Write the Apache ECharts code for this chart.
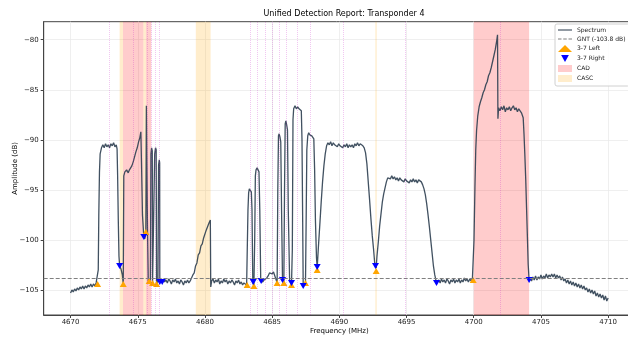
<!DOCTYPE html>
<html style="height: 100%">
<head>
  <meta charset="utf-8">
  <title>Unified Detection Report</title>
</head>
<body style="height: 100%; margin: 0; background: #fff">
<div id="container" style="width: 628px; height: 337px"></div>
<script src="https://cdn.jsdelivr.net/npm/echarts@6/dist/echarts.min.js"></script>
<script>
// spectrum trace, [MHz, dB]
var spectrum = [
  [4670.0,-105.3],[4670.1,-105.0],[4670.2,-105.2],[4670.3,-104.9],[4670.4,-105.1],[4670.5,-104.8],[4670.6,-105.0],[4670.7,-104.7],
  [4670.8,-104.9],[4670.9,-104.6],[4671.0,-104.9],[4671.1,-104.6],[4671.2,-104.8],[4671.3,-104.5],[4671.4,-104.7],[4671.5,-104.4],
  [4671.6,-104.7],[4671.7,-104.4],[4671.8,-104.6],[4671.9,-104.3],[4672.0,-104.4],
  [4672.06,-103.0],[4672.1,-97.5],[4672.15,-93.2],[4672.2,-91.4],[4672.3,-90.8],[4672.4,-90.5],[4672.5,-90.8],[4672.6,-90.4],
  [4672.7,-90.7],[4672.8,-90.5],[4672.9,-90.8],[4673.0,-90.4],[4673.1,-90.6],[4673.2,-90.3],[4673.3,-90.7],[4673.4,-90.5],
  [4673.46,-90.9],[4673.5,-93.5],[4673.55,-98.0],[4673.6,-101.6],[4673.65,-102.6],[4673.75,-102.9],[4673.85,-103.5],[4673.92,-104.4],
  [4673.96,-93.6],[4674.04,-93.2],[4674.17,-93.0],[4674.29,-93.3],[4674.38,-93.0],[4674.46,-92.9],[4674.56,-92.6],[4674.66,-92.2],
  [4674.76,-91.7],[4674.86,-91.2],[4674.96,-90.8],[4675.06,-90.2],[4675.15,-89.8],[4675.23,-89.2],[4675.28,-92.5],[4675.35,-97.5],
  [4675.45,-99.7],[4675.52,-99.9],[4675.6,-99.2],[4675.64,-86.6],[4675.68,-92.8],[4675.72,-98.5],[4675.78,-104.1],[4675.85,-104.1],
  [4675.94,-104.0],[4675.98,-91.4],[4676.03,-90.8],[4676.08,-91.1],[4676.1,-104.3],[4676.2,-104.2],[4676.26,-91.4],[4676.32,-90.8],
  [4676.37,-91.0],[4676.4,-104.4],[4676.5,-104.1],[4676.55,-92.5],[4676.6,-92.0],[4676.63,-92.3],[4676.64,-104.2],[4676.72,-104.0],
  [4676.82,-104.2],
  [4676.9,-103.9],[4677.0,-104.2],[4677.1,-104.0],[4677.2,-104.3],[4677.3,-103.9],[4677.4,-104.1],[4677.5,-104.4],[4677.6,-104.0],
  [4677.7,-104.2],[4677.8,-103.9],[4677.9,-104.3],[4678.0,-104.1],[4678.1,-104.4],[4678.2,-104.0],[4678.3,-104.2],[4678.4,-104.5],
  [4678.5,-104.1],[4678.6,-104.3],[4678.7,-104.0],[4678.8,-104.3],[4678.9,-104.1],
  [4679.0,-104.2],[4679.1,-103.5],[4679.2,-103.3],[4679.3,-102.6],[4679.4,-102.3],[4679.5,-101.5],[4679.6,-101.3],[4679.7,-100.6],
  [4679.8,-100.4],[4679.9,-99.8],[4680.0,-99.7],[4680.1,-99.0],[4680.2,-98.9],[4680.3,-98.3],[4680.4,-98.0],[4680.43,-104.7],
  [4680.5,-104.1],[4680.6,-103.9],[4680.7,-104.3],[4680.8,-104.0],[4680.9,-104.2],[4681.0,-103.9],[4681.1,-104.4],[4681.2,-104.1],
  [4681.3,-104.3],[4681.4,-103.9],[4681.5,-104.2],[4681.6,-104.0],[4681.7,-104.4],[4681.8,-104.1],[4681.9,-104.3],[4682.0,-104.0],
  [4682.1,-104.2],[4682.2,-104.5],[4682.3,-104.1],[4682.4,-104.3],[4682.5,-104.0],[4682.6,-104.4],[4682.7,-104.2],[4682.8,-104.5],
  [4682.9,-104.3],[4683.0,-104.4],[4683.1,-104.5],[4683.14,-104.5],
  [4683.2,-97.0],[4683.25,-95.3],[4683.3,-94.9],[4683.38,-95.0],[4683.45,-95.2],[4683.5,-97.0],[4683.56,-104.2],[4683.64,-104.6],
  [4683.7,-100.0],[4683.75,-93.6],[4683.8,-93.0],[4683.88,-92.8],[4683.95,-92.9],[4684.02,-93.2],[4684.08,-97.0],[4684.15,-104.1],
  [4684.3,-104.2],[4684.4,-104.0],[4684.5,-104.1],[4684.6,-103.8],[4684.7,-103.6],[4684.8,-103.3],[4684.9,-103.2],[4685.0,-103.4],
  [4685.1,-103.2],[4685.2,-103.6],[4685.3,-104.0],[4685.37,-104.3],
  [4685.42,-95.0],[4685.47,-89.6],[4685.52,-89.4],[4685.58,-89.7],[4685.64,-90.2],[4685.7,-97.0],[4685.77,-104.0],[4685.87,-104.3],
  [4685.92,-95.0],[4685.97,-88.4],[4686.02,-88.1],[4686.08,-88.5],[4686.14,-89.0],[4686.2,-97.0],[4686.3,-104.1],[4686.44,-104.4],
  [4686.5,-101.0],[4686.55,-88.0],[4686.6,-86.9],[4686.7,-86.6],[4686.8,-86.9],[4686.9,-86.7],[4687.0,-86.9],[4687.1,-86.8],
  [4687.17,-87.1],[4687.22,-90.0],[4687.27,-98.0],[4687.31,-104.6],[4687.4,-104.5],[4687.48,-104.3],
  [4687.53,-98.0],[4687.58,-91.0],[4687.65,-89.6],[4687.72,-89.3],[4687.8,-89.5],[4687.88,-89.4],[4687.95,-89.6],[4688.02,-89.5],
  [4688.1,-89.9],[4688.16,-93.0],[4688.22,-98.0],[4688.3,-101.8],[4688.35,-102.8],
  [4688.45,-100.5],[4688.55,-98.4],[4688.65,-96.2],[4688.75,-94.2],[4688.85,-92.6],[4688.95,-91.4],
  [4689.05,-90.6],[4689.15,-90.3],[4689.25,-90.5],[4689.35,-90.2],[4689.45,-90.6],[4689.55,-90.3],[4689.65,-90.5],[4689.75,-90.4],
  [4689.85,-90.7],[4689.95,-90.4],[4690.05,-90.6],[4690.15,-90.5],[4690.25,-90.8],[4690.35,-90.5],[4690.45,-90.7],[4690.55,-90.4],
  [4690.65,-90.8],[4690.75,-90.5],[4690.85,-90.7],[4690.95,-90.5],[4691.05,-90.8],[4691.15,-90.4],[4691.25,-90.6],[4691.35,-90.3],
  [4691.45,-90.6],[4691.55,-90.4],[4691.65,-90.5],[4691.75,-90.6],
  [4691.85,-90.8],[4691.95,-91.3],[4692.05,-92.4],[4692.15,-94.2],[4692.25,-96.0],[4692.35,-97.9],[4692.45,-99.6],[4692.55,-101.0],
  [4692.63,-102.3],[4692.69,-102.6],[4692.74,-102.8],[4692.8,-101.6],[4692.9,-100.2],[4693.0,-98.6],[4693.1,-97.4],[4693.2,-96.2],
  [4693.3,-95.4],[4693.4,-94.8],[4693.5,-94.2],[4693.6,-93.8],
  [4693.7,-93.7],[4693.8,-93.9],[4693.9,-93.6],[4694.0,-93.9],[4694.1,-93.7],[4694.2,-94.0],[4694.3,-93.8],[4694.4,-94.1],
  [4694.5,-93.8],[4694.6,-94.0],[4694.7,-93.9],[4694.8,-94.2],[4694.9,-93.9],[4695.0,-94.1],[4695.1,-94.0],[4695.2,-94.3],
  [4695.3,-94.0],[4695.4,-94.2],[4695.5,-93.9],[4695.6,-94.2],[4695.7,-94.0],[4695.8,-94.3],[4695.9,-94.0],[4696.0,-94.1],
  [4696.1,-94.2],[4696.2,-94.5],[4696.3,-94.9],[4696.4,-95.5],[4696.5,-96.4],[4696.6,-97.5],[4696.7,-98.7],[4696.8,-100.0],
  [4696.9,-101.3],[4697.0,-102.6],[4697.1,-103.5],[4697.23,-104.3],
  [4697.3,-104.2],[4697.4,-104.0],[4697.5,-104.3],[4697.6,-103.9],[4697.7,-104.2],[4697.8,-104.0],[4697.9,-104.3],[4698.0,-103.9],
  [4698.1,-104.1],[4698.2,-104.4],[4698.3,-104.0],[4698.4,-104.2],[4698.5,-103.9],[4698.6,-104.3],[4698.7,-104.0],[4698.8,-104.2],
  [4698.9,-103.9],[4699.0,-104.3],[4699.1,-104.0],[4699.2,-104.2],[4699.3,-103.8],[4699.4,-104.1],[4699.5,-103.9],[4699.6,-104.2],
  [4699.7,-103.9],[4699.8,-104.1],[4699.9,-103.9],[4699.96,-104.0],
  [4700.02,-100.0],[4700.09,-94.7],[4700.15,-91.0],[4700.21,-89.1],[4700.3,-87.6],[4700.4,-86.7],[4700.5,-86.2],[4700.6,-85.8],
  [4700.7,-85.3],[4700.8,-85.0],[4700.9,-84.5],[4701.0,-84.2],[4701.1,-83.6],[4701.2,-83.3],[4701.3,-82.8],[4701.4,-82.2],
  [4701.5,-81.6],[4701.6,-81.0],[4701.7,-80.2],[4701.77,-79.5],[4701.8,-87.9],[4701.85,-86.8],
  [4701.95,-87.1],[4702.05,-86.7],[4702.15,-87.0],[4702.25,-86.6],[4702.35,-87.2],[4702.45,-86.8],[4702.55,-87.0],[4702.65,-86.7],
  [4702.75,-87.1],[4702.85,-86.8],[4702.95,-86.6],[4703.05,-87.0],[4703.15,-86.8],[4703.25,-87.2],[4703.35,-86.9],[4703.45,-87.1],
  [4703.55,-87.3],[4703.62,-87.4],[4703.68,-87.8],[4703.74,-89.4],[4703.8,-91.4],[4703.87,-94.0],[4703.93,-96.8],[4704.0,-100.0],
  [4704.05,-102.4],[4704.12,-104.0],
  [4704.2,-103.8],[4704.3,-104.1],[4704.4,-103.7],[4704.5,-104.0],[4704.6,-103.6],[4704.7,-104.0],[4704.8,-103.7],[4704.9,-103.9],
  [4705.0,-103.5],[4705.1,-103.9],[4705.2,-103.6],[4705.3,-103.8],[4705.4,-103.4],[4705.5,-103.8],[4705.6,-103.5],[4705.7,-103.7],
  [4705.8,-103.4],[4705.9,-103.7],[4706.0,-103.4],[4706.1,-103.8],[4706.2,-103.5],[4706.3,-103.8],[4706.4,-103.6],[4706.5,-104.0],
  [4706.6,-103.7],[4706.7,-104.1],[4706.8,-103.9],[4706.9,-104.3],[4707.0,-104.0],[4707.1,-104.4],[4707.2,-104.1],[4707.3,-104.5],
  [4707.4,-104.2],[4707.5,-104.6],[4707.6,-104.3],[4707.7,-104.7],[4707.8,-104.4],[4707.9,-104.8],[4708.0,-104.5],[4708.1,-104.9],
  [4708.2,-104.6],[4708.3,-105.0],[4708.4,-104.8],[4708.5,-105.2],[4708.6,-104.9],[4708.7,-105.3],[4708.8,-105.0],[4708.9,-105.4],
  [4709.0,-105.1],[4709.1,-105.6],[4709.2,-105.3],[4709.3,-105.7],[4709.4,-105.4],[4709.5,-105.8],[4709.6,-105.5],[4709.7,-106.0],
  [4709.8,-105.6],[4709.9,-106.1],[4710.0,-105.8]
];

var gntLevel = -103.8;

// 3-7 edge detections
var leftMarks = [
  [4672.01,-104.4],[4673.92,-104.4],[4675.6,-99.2],[4675.85,-104.1],[4676.1,-104.3],[4676.4,-104.4],
  [4683.14,-104.5],[4683.64,-104.6],[4685.37,-104.3],[4685.87,-104.3],[4686.44,-104.5],[4687.48,-104.3],
  [4688.35,-103.0],[4692.74,-103.1],[4699.96,-104.0]
];
var rightMarks = [
  [4673.65,-102.6],[4675.45,-99.7],[4676.64,-104.2],[4676.82,-104.2],[4683.59,-104.2],[4684.18,-104.1],
  [4685.77,-104.0],[4686.44,-104.3],[4687.31,-104.6],[4688.35,-102.7],[4692.69,-102.6],[4697.23,-104.3],
  [4704.12,-104.0]
];

// detected carrier centres (dotted)
var centres = [4672.87, 4674.66, 4675.7, 4676.03, 4676.32, 4676.59, 4683.37, 4683.92, 4684.46,
  4685.03, 4685.52, 4686.04, 4686.9, 4687.87, 4690.3, 4694.9, 4701.97];

// shaded regions [start, end] MHz
var cadBands = [[4673.9, 4675.42], [4675.6, 4676.0], [4700.0, 4704.12]];
var cascBands = [[4673.65, 4673.9], [4675.42, 4675.6], [4679.32, 4680.42], [4692.68, 4692.78]];

var xTicks = [4670, 4675, 4680, 4685, 4690, 4695, 4700, 4705, 4710];
var yTicks = [-105, -100, -95, -90, -85, -80];

var font = 'DejaVu Sans';
var chart = echarts.init(document.getElementById('container'));

function bands(list) {
  return list.map(function (b) { return [{ xAxis: b[0] }, { xAxis: b[1] }]; });
}
function plain(v) { return String(v).replace('-', '\u2212'); }

var option = {
  animation: false,
  title: {
    text: 'Unified Detection Report: Transponder 4',
    left: 339, top: 5, textAlign: 'center',
    textStyle: { fontFamily: font, fontSize: 8, fontWeight: 'normal', color: '#000' }
  },
  grid: {
    left: 43.7, top: 21.7, bottom: 22, width: 591.3,
    outerBoundsMode: 'none', containLabel: false,
    show: true, borderColor: '#444', borderWidth: 1, backgroundColor: 'transparent'
  },
  legend: {
    orient: 'vertical', left: 555, top: 24,
    itemWidth: 14, itemHeight: 7, itemGap: 3, padding: [3, 4, 4, 3],
    backgroundColor: 'rgba(255,255,255,0.9)', borderColor: '#d0d0d0', borderWidth: 1, borderRadius: 2,
    textStyle: { fontFamily: font, fontSize: 6, color: '#222' },
    data: [
      { name: 'Spectrum', icon: 'path://M0,0h20v1.6h-20z' },
      { name: 'GNT (-103.8 dB)', icon: 'path://M0,0h5v1.4h-5zM7.5,0h5v1.4h-5zM15,0h5v1.4h-5z' },
      { name: '3-7 Left', icon: 'triangle' },
      { name: '3-7 Right', icon: 'path://M0,0L10,0L5,9Z' },
      { name: 'CAD', icon: 'rect' },
      { name: 'CASC', icon: 'rect' }
    ]
  },
  xAxis: {
    type: 'value', min: 4668, max: 4712,
    name: 'Frequency (MHz)', nameLocation: 'middle', nameGap: 13, nameMoveOverlap: false,
    nameTextStyle: { fontFamily: font, fontSize: 7, color: '#000' },
    axisLine: { lineStyle: { color: '#444', width: 1 } },
    axisTick: { show: true, length: 3, customValues: xTicks, lineStyle: { color: '#444' } },
    axisLabel: { customValues: xTicks, formatter: plain, margin: 4, fontFamily: font, fontSize: 7, color: '#222' },
    splitLine: { show: true, lineStyle: { color: '#ebebeb', width: 0.8 } }
  },
  yAxis: {
    type: 'value', min: -107.5, max: -78.2,
    name: 'Amplitude (dB)', nameLocation: 'middle', nameGap: 25, nameRotate: 90, nameMoveOverlap: false,
    nameTextStyle: { fontFamily: font, fontSize: 7, color: '#000' },
    axisLine: { show: true, lineStyle: { color: '#444', width: 1 } },
    axisTick: { show: true, length: 3, customValues: yTicks, lineStyle: { color: '#444' } },
    axisLabel: { customValues: yTicks, formatter: plain, margin: 5, fontFamily: font, fontSize: 7, color: '#222' },
    splitLine: { show: true, lineStyle: { color: '#ebebeb', width: 0.8 } }
  },
  series: [
    {
      name: 'CAD', type: 'line', data: [], z: 1,
      itemStyle: { color: 'rgba(255,0,0,0.2)' }, lineStyle: { color: 'rgba(255,0,0,0.2)' },
      markArea: { silent: true, itemStyle: { color: 'rgba(255,0,0,0.2)' }, data: bands(cadBands) }
    },
    {
      name: 'CASC', type: 'line', data: [], z: 1,
      itemStyle: { color: 'rgba(255,165,0,0.2)' }, lineStyle: { color: 'rgba(255,165,0,0.2)' },
      markArea: { silent: true, itemStyle: { color: 'rgba(255,165,0,0.2)' }, data: bands(cascBands) }
    },
    {
      name: 'GNT (-103.8 dB)', type: 'line', data: [], z: 2,
      itemStyle: { color: '#808080' }, lineStyle: { color: '#808080' },
      markLine: {
        silent: true, symbol: ['none', 'none'], label: { show: false },
        lineStyle: { color: '#808080', type: [4, 2], width: 1 },
        data: [{ yAxis: gntLevel }]
      }
    },
    {
      name: 'Spectrum', type: 'line', data: spectrum, z: 3,
      showSymbol: false, symbol: 'none', sampling: false,
      itemStyle: { color: '#3b4a5b' },
      lineStyle: { color: 'rgba(44,62,80,0.9)', width: 1.3 },
      markLine: {
        silent: true, symbol: ['none', 'none'], label: { show: false },
        lineStyle: { color: 'rgba(191,0,191,0.22)', type: 'dotted', width: 1 },
        data: centres.map(function (c) { return { xAxis: c }; })
      }
    },
    {
      name: '3-7 Left', type: 'scatter', data: leftMarks, z: 4,
      symbol: 'triangle', symbolSize: [7, 6],
      itemStyle: { color: '#ffa500', opacity: 1 }
    },
    {
      name: '3-7 Right', type: 'scatter', data: rightMarks, z: 4,
      symbol: 'path://M0,0L10,0L5,9Z', symbolSize: [7, 6],
      itemStyle: { color: '#0000ff', opacity: 1 }
    }
  ]
};

chart.setOption(option);
</script>
</body>
</html>
